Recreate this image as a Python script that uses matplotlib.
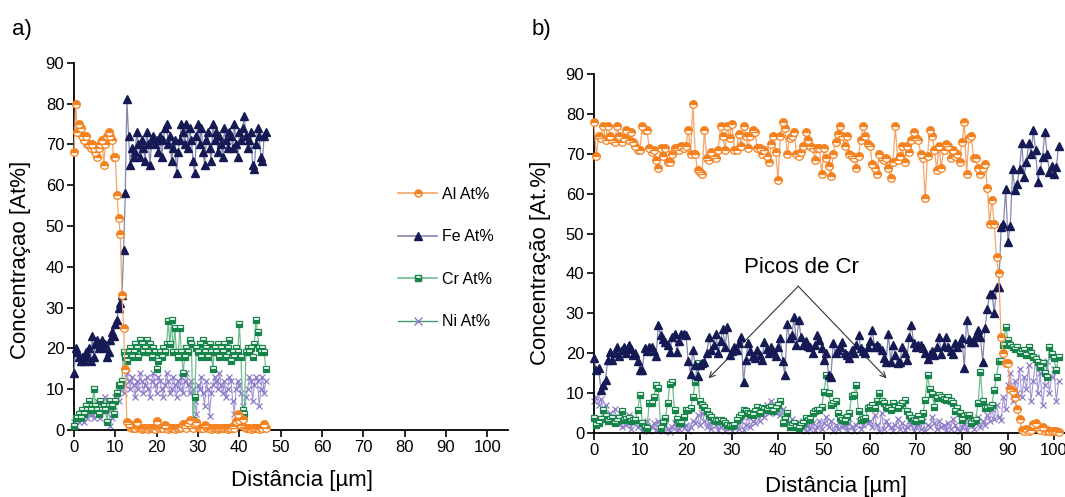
import matplotlib as mpl
mpl.use('Agg')
import matplotlib.pyplot as plt
from matplotlib.lines import Line2D
import numpy as np

plt.rcParams['font.family'] = ['Liberation Sans', 'DejaVu Sans']

# ---------------------------------------------------------------
# Data: EDS line scans (At%), step 0.4 um (a) and 0.5 um (b)
# ---------------------------------------------------------------
STEP_A = 0.4
STEP_B = 0.5

al_a = [68, 80, 73, 75, 74, 72, 71, 72, 70, 70,
        69, 70, 69, 68, 67, 69, 70, 71, 65, 70,
        72, 73, 72, 71, 67, 67, 57.5, 52, 48, 33,
        25, 15, 2, 1.5, 0.8, 0.5, 0.6, 0.4, 2.0, 0.8,
        0.5, 0.3, 0.6, 0.4, 0.5, 0.3, 0.6, 0.5, 0.4, 0.3,
        2.2, 0.8, 0.5, 0.4, 0.6, 1.2, 0.5, 0.3, 0.4, 0.5,
        0.4, 0.3, 0.6, 0.5, 0.4, 0.8, 1.5, 1.2, 0.6, 1.8,
        2.5, 1.0, 0.6, 1.5, 2.0, 0.8, 0.4, 0.5, 0.6, 1.2,
        0.8, 0.5, 0.4, 0.3, 0.4, 0.5, 0.4, 0.3, 0.5, 0.4,
        0.6, 0.4, 0.5, 0.3, 0.4, 0.6, 1.0, 0.5, 2.2, 3.8,
        2.5, 1.2, 2.8, 0.8, 0.5, 0.4, 0.6, 0.3, 0.4, 0.5,
        0.4, 0.5, 0.3, 0.4, 0.5, 1.5, 0.6]

fe_a = [14, 20, 19, 18, 17, 18, 17, 19, 18, 20,
        17, 23, 18, 21, 22, 20, 21, 22, 20, 21,
        18, 19, 22, 24, 23, 26, 27, 30, 31, 33,
        44, 58, 81, 72, 65, 69, 67, 68, 73, 70,
        67, 71, 69, 66, 73, 70, 65, 71, 72, 70,
        71, 68, 72, 67, 71, 74, 75, 70, 72, 66,
        69, 71, 63, 68, 71, 75, 73, 70, 75, 69,
        74, 71, 66, 63, 72, 75, 70, 74, 68, 65,
        71, 73, 69, 66, 75, 71, 73, 68, 72, 70,
        67, 74, 71, 69, 73, 72, 69, 75, 70, 67,
        73, 71, 74, 77, 72, 69, 71, 73, 65, 64,
        70, 74, 72, 67, 66, 72, 73]

cr_a = [1, 3, 3, 4, 3, 5, 4, 6, 5, 7,
        5, 6, 10, 6, 5, 4, 7, 5, 6, 5,
        2, 6, 7, 6, 4, 7, 9, 11, 11, 12,
        19, 18, 17, 19, 20, 18, 19, 21, 20, 18,
        22, 21, 19, 20, 22, 19, 21, 18, 20, 19,
        15, 17, 19, 18, 20, 19, 21, 26.7, 21, 27,
        19, 25, 19, 18, 25, 19, 14, 18, 20, 19,
        22, 21, 2.4, 8, 20, 19, 21, 18, 22, 19,
        20, 18, 21, 19, 15, 20, 19, 21, 18, 20,
        19, 21, 18, 20, 22, 17, 19, 18, 20, 19,
        26, 18, 5, 4, 19, 20, 19, 20, 18, 21,
        27, 24, 20, 19, 20, 19, 15]

ni_a = [2, 1, 3, 2, 4, 3, 2, 5, 3, 4,
        6, 4, 3, 5, 7, 4, 3, 6, 5, 8,
        7, 5, 1, 3, 6, 8, 9, 7, 10, 12,
        9, 11, 14, 12, 10, 13, 11, 8, 12, 10,
        14, 12, 9, 11, 13, 10, 8, 12, 14, 11,
        9, 13, 12, 10, 8, 11, 14, 12, 9, 10,
        13, 11, 8, 12, 10, 13, 9, 12, 14, 11,
        9, 12, 10, 7, 4, 11, 10, 13, 9, 6,
        12, 10, 3.5, 9, 11, 13, 12, 10, 14, 11,
        9, 12, 8, 10, 13, 12, 7, 4, 10, 12,
        11, 9, 6, 3, 8, 10, 13, 12, 7, 11,
        13, 12, 6, 10, 13, 9, 12]

al_b = [78, 69.5, 74.5, 74, 77, 73.5, 77, 74.5, 73.5, 73,
        77, 74.5, 73, 74, 76, 73.5, 75.5, 73, 72, 71,
        71, 77, 76, 76, 71.5, 70.5, 71, 68.5, 66.5, 71.5,
        69.5, 71.5, 68, 68, 70, 71.5, 71.5, 71, 72, 71.5,
        72, 76, 70, 82.5, 70, 66, 65.5, 65, 76, 69,
        68.5, 70.5, 69.5, 69, 71, 77, 74.5, 71, 77, 74,
        77.5, 71, 71, 75, 72, 77, 74.5, 71.5, 74.5, 76,
        75.5, 71.5, 71.5, 70, 71, 69.5, 68, 72.5, 74.5, 70.5,
        63.5, 74.5, 78, 76.5, 70, 74, 74.5, 75.5, 70, 69.5,
        70.5, 72, 75.5, 73.5, 72, 71.5, 68.5, 71.5, 71.5, 65,
        71.5, 69, 67, 64.5, 70, 73, 75, 77, 74.5, 72,
        74.5, 70, 69.5, 69, 66.5, 69.5, 73.5, 77, 74.5, 72.5,
        72, 67.5, 66.5, 65, 70, 69, 68.5, 69, 66.5, 64,
        68, 77, 68.5, 69.5, 72, 68, 72, 70.5, 73.5, 75.5,
        74, 73.5, 70, 69, 59, 69.5, 76, 74.5, 71, 66,
        72, 66.5, 71, 72.5, 72, 69, 71, 69.5, 70, 68,
        73, 78, 65, 74, 74.5, 69, 69, 66.5, 65, 66.5,
        67.5, 61.5, 52.5, 58.5, 52.5, 44, 40, 24, 20, 17.5,
        17.5, 11, 10.5, 9, 6, 3.5, 0.8, 0.6, 1, 0.5,
        0.8, 2.3, 2.5, 1.2, 0.7, 1.5, 0.6, 0.8, 0.5, 0.6,
        0.4, 0.5, 0.3]

fe_b = [18.7, 15.8, 16.2, 10.9, 12, 13.4, 18.4, 20.4, 18.4, 20,
        21.6, 19.2, 20.8, 21.6, 20, 22.1, 21, 19.6, 20, 18,
        15.8, 15.8, 21.2, 20.5, 21.6, 21.6, 20.5, 19.2, 27, 24.5,
        23.5, 22.9, 22.1, 20.4, 24.1, 24.9, 20.4, 23, 24.9, 24.9,
        24.5, 18, 14.9, 20.8, 17, 14.3, 17.1, 17.5, 17.9, 20,
        24.1, 20.8, 22, 24.9, 20, 23, 26.1, 21.6, 26.6, 19.6,
        20.5, 21.6, 20.8, 22.5, 24.1, 12.8, 18.3, 22.5, 20.5, 19.2,
        18.8, 20.8, 19.5, 18.4, 22.9, 21, 20, 21.6, 20.5, 19.2,
        21.5, 23.7, 18, 14.5, 27.4, 23.7, 24.5, 29.1, 22.1, 28.4,
        24, 22.1, 23, 21.8, 21.6, 20, 22, 24.5, 23.3, 21.3,
        18.4, 20, 14.5, 14.1, 22.5, 20, 20.8, 21.6, 22.9, 20,
        19.5, 18.8, 20.8, 20, 22, 24.6, 21.2, 20.5, 20, 21.6,
        23, 25.8, 21.6, 22.1, 21.5, 20.8, 18.8, 17.9, 24.9, 17.9,
        22.1, 19.5, 17.5, 17.9, 21.6, 20, 18.4, 24, 27, 22.5,
        21.6, 22, 22.1, 21.2, 20, 18.6, 19.9, 20.5, 19.5, 21.5,
        24, 19.9, 21.8, 24, 21.6, 20.5, 19.9, 22.5, 21.6, 22.5,
        23.7, 16.3, 28.3, 23.5, 22.9, 22.9, 24.5, 25.8, 24.1, 17.9,
        26.3, 31, 34.9, 34.9, 30.2, 36.6, 36.6, 51.6, 52.4, 61.1,
        47.9, 52, 66.2, 60.8, 62.5, 66.2, 72.7, 64.3, 68, 72.7,
        70, 75.9, 70.9, 62.9, 66, 69.2, 75.5, 70, 65.5, 67,
        65, 66.7, 72]

cr_b = [3.7, 2.0, 2.4, 3.5, 5.8, 4.2, 3.0, 3.5, 3.7, 2.4,
        3.0, 3.7, 5.4, 3.3, 3.5, 3.7, 2.9, 3.2, 3.3, 5.8,
        9.5, 2.4, 1.5, 1.2, 7.4, 7.4, 9, 12, 11.2, 1.2,
        2.5, 3.7, 7.4, 12.4, 12.9, 5.8, 3.5, 2.4, 2.4, 4,
        5.8, 5.8, 6.2, 9, 12.9, 17.5, 7.9, 7, 6.6, 5.4,
        4.5, 4.1, 3.3, 2.9, 3.1, 3.3, 2.9, 2.4, 2.0, 1.7,
        1.8, 2.0, 3.3, 4.1, 4.5, 5.8, 5.4, 5.0, 4.8, 4.6,
        5.5, 6.6, 5.0, 6.2, 6.0, 5.8, 6.3, 6.6, 5.4, 6.2,
        7, 7.9, 2.4, 3.5, 4.9, 1.6, 2.0, 2.4, 1.5, 1.2,
        2.0, 2.5, 3.7, 3.3, 3.5, 5.0, 5.5, 5.8, 5.8, 6.6,
        10.4, 14.5, 10, 7.1, 7.5, 7.9, 5.0, 3.7, 3.3, 2.9,
        4, 5.0, 9.2, 9.6, 12, 5.4, 3.3, 3.5, 3.7, 6.2,
        6.5, 7.1, 6.2, 8, 10, 7.9, 7.5, 6.6, 6.2, 5.8,
        7.5, 6.5, 6.2, 7, 7.5, 8.3, 5.5, 4.6, 3.7, 3.3,
        2.9, 4.2, 3.3, 5, 8.3, 14.5, 11, 9.9, 6.6, 8.7,
        9.5, 9, 8.5, 8.3, 9.1, 8, 7.5, 5.4, 6.2, 5,
        3.3, 4.2, 4.4, 4.6, 2.5, 3, 3.3, 7.5, 15.3, 8,
        6.2, 6.2, 6.5, 7.1, 10.8, 14, 18, 18, 22, 26.6,
        23.3, 22, 21.6, 21, 21.6, 20, 20.5, 20.8, 19.5, 21.6,
        20, 19.1, 18.5, 17.9, 16.6, 17.5, 15, 14.1, 21.6, 19.9,
        18.7, 15.7, 19]

ni_b = [8, 9, 7, 8.5, 6, 7, 4, 5, 3, 6,
        2.5, 4, 1.5, 3, 2, 4.5, 1, 2.5, 3.5, 1.5,
        2, 0.5, 1, 3, 0.5, 1.5, 2.5, 0.8, 3, 1,
        0.5, 2, 1, 0.3, 1.5, 2.5, 0.8, 1, 3.5, 1.2,
        2, 0.5, 1.5, 3, 2.5, 4.5, 2, 5, 3, 1.5,
        2.5, 1, 3.5, 2, 0.8, 1.5, 3, 0.5, 2, 1.2,
        0.5, 1.5, 2.5, 1, 3, 0.8, 2, 4, 1.5, 3,
        2.5, 4.5, 3, 6, 4, 7, 5, 8, 6.5, 5,
        7, 4.5, 6, 3, 5, 2, 3.5, 1.5, 2.5, 0.8,
        1.5, 3, 0.5, 2, 1, 2.5, 0.8, 1.5, 3, 1,
        2.5, 4, 1.5, 3, 0.5, 2, 1, 3.5, 1.5, 2,
        0.8, 2.5, 1.5, 0.5, 2, 3, 1, 2, 4, 2.5,
        3, 1.5, 4.5, 2, 0.5, 5, 1, 3, 2, 1.5,
        0.5, 2, 3.5, 1, 2.5, 0.8, 1.5, 3, 2, 0.5,
        1.5, 2.5, 1, 3, 0.5, 2, 1.5, 4, 2.5, 1,
        3, 1.5, 2, 0.8, 2.5, 1, 3.5, 2, 1, 0.5,
        1.5, 2.5, 0.8, 2, 3, 1, 2.5, 4, 1.5, 3,
        2, 4.5, 3, 6, 3.5, 7, 4, 3.3, 9, 6,
        12, 15, 8, 13, 10, 16, 9, 14, 11, 17,
        8, 13, 19, 10, 15, 7, 12, 18, 10, 14,
        16, 8, 13]

labels = ['Al At%', 'Fe At%', 'Cr At%', 'Ni At%']

# styles (marker colour, line colour)
AL_M, AL_L = '#F58220', '#F6A56A'
FE_M, FE_L = '#151A55', '#8587AE'
CR_M, CR_L = '#17854A', '#6DBE8F'
NI_M, NI_L = '#8C7CC8', '#A596D6'


def draw(ax, step, al, fe, cr, ni):
    def xs(v):
        return np.arange(len(v)) * step
    ax.plot(xs(ni), ni, color=NI_L, lw=0.8, marker='x', ms=5, mew=0.9,
            mec=NI_M, clip_on=False, zorder=2)
    ax.plot(xs(cr), cr, color=CR_L, lw=0.9, marker='s', ms=5, mec=CR_M,
            mfc=CR_M, fillstyle='bottom', markerfacecoloralt='white',
            mew=0.9, clip_on=False, zorder=3)
    ax.plot(xs(fe), fe, color=FE_L, lw=0.9, marker='^', ms=6, mec=FE_M,
            mfc=FE_M, clip_on=False, zorder=4)
    ax.plot(xs(al), al, color=AL_L, lw=0.9, marker='o', ms=5.5, mec=AL_M,
            mfc=AL_M, fillstyle='top', markerfacecoloralt='white',
            mew=0.9, clip_on=False, zorder=5)


def style(ax):
    ax.set_ylim(0, 90)
    ax.set_yticks(np.arange(0, 91, 10))
    ax.set_xticks(np.arange(0, 101, 10))
    for s in ['top', 'right']:
        ax.spines[s].set_visible(False)
    for s in ['left', 'bottom']:
        ax.spines[s].set_linewidth(1.3)
    ax.tick_params(direction='out', length=5, width=1.2, labelsize=12, pad=2)


fig = plt.figure(figsize=(10.65, 4.97), dpi=100)
W, H = 1065., 497.

# panel a
ax1 = fig.add_axes([74 / W, 1 - 430 / H, 434 / W, 367.3 / H])
draw(ax1, STEP_A, al_a, fe_a, cr_a, ni_a)
style(ax1)
ax1.set_xlim(0, 105)
ax1.set_xlabel('Distância [µm]', fontsize=16)
ax1.xaxis.set_label_coords(0.525, -0.11)
ax1.set_ylabel('Concentraçao [At%]', fontsize=16)
ax1.yaxis.set_label_coords(-0.1, 0.463)

# panel b
ax2 = fig.add_axes([594 / W, 1 - 433 / H, 483 / W, 359 / H])
draw(ax2, STEP_B, al_b, fe_b, cr_b, ni_b)
style(ax2)
ax2.set_xlim(0, 105)
ax2.set_xlabel('Distância [µm]', fontsize=16)
ax2.xaxis.set_label_coords(0.501, -0.12)
ax2.set_ylabel('Concentração [At.%]', fontsize=16)
ax2.yaxis.set_label_coords(-0.088, 0.474)

# annotation
ax2.text(45.2, 41.6, 'Picos de Cr', fontsize=16, ha='center', va='center')
for tip in [(24.9, 13.7), (63.6, 13.7)]:
    ax2.annotate('', xy=tip, xytext=(44.4, 36.8),
                 arrowprops=dict(arrowstyle='->', color='#333333', lw=0.8,
                                 shrinkA=0, shrinkB=0))

# legend
handles = [
    Line2D([], [], color=AL_L, marker='o', ms=5, mec=AL_M, mfc=AL_M,
           fillstyle='top', markerfacecoloralt='white', lw=1.2),
    Line2D([], [], color=FE_L, marker='^', ms=6, mec=FE_M, mfc=FE_M, lw=1.2),
    Line2D([], [], color=CR_L, marker='s', ms=5, mec=CR_M, mfc=CR_M,
           fillstyle='bottom', markerfacecoloralt='white', lw=1.2),
    Line2D([], [], color='#3E9A6C', marker='x', ms=6, mec=NI_M, lw=1.0),
]
fig.legend(handles, labels, loc='upper left',
           bbox_to_anchor=(398 / W, 1 - 187 / H), bbox_transform=fig.transFigure,
           frameon=False, fontsize=11.5, handlelength=2.45, handletextpad=0.3,
           labelspacing=1.72, borderpad=0, borderaxespad=0)

fig.text(12 / W, 1 - 29 / H, 'a)', fontsize=16, va='center', ha='left')
fig.text(532 / W, 1 - 29 / H, 'b)', fontsize=16, va='center', ha='left')

fig.savefig('out.png', dpi=100)
